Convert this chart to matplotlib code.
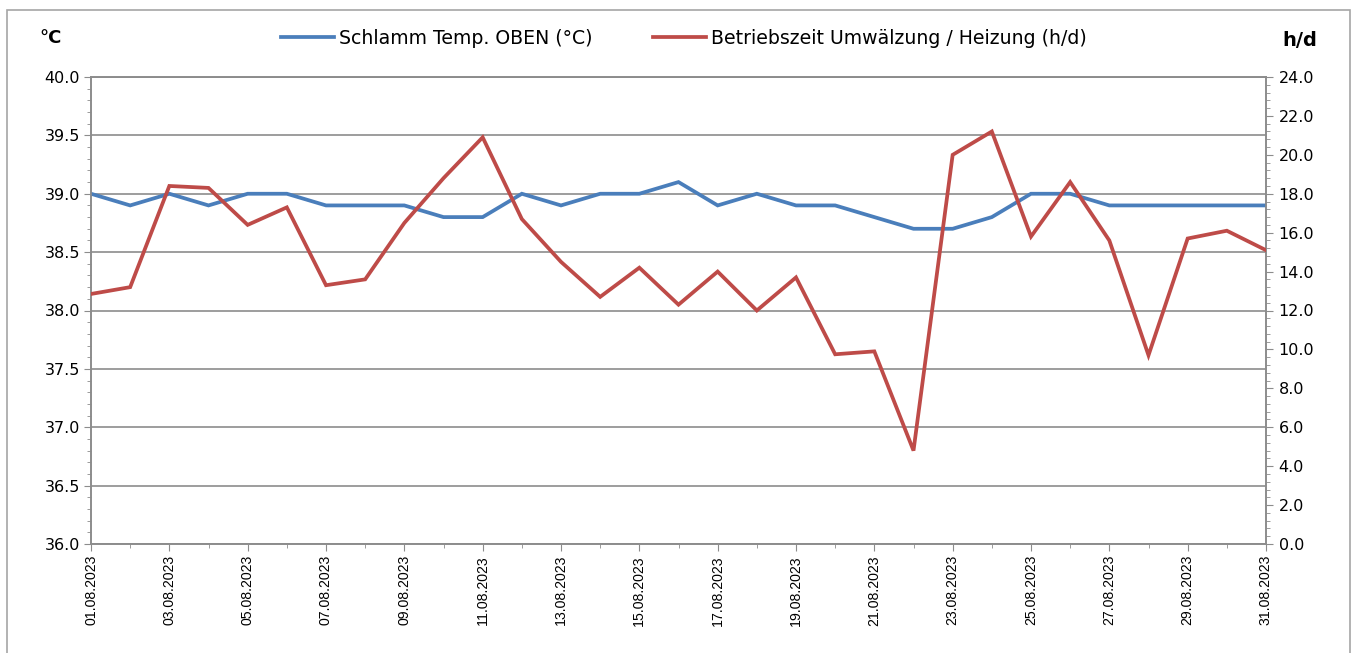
import matplotlib
matplotlib.use("Agg")
import matplotlib.pyplot as plt
from matplotlib.ticker import MultipleLocator, FixedLocator, FormatStrFormatter
from matplotlib.patches import Rectangle
from matplotlib.lines import Line2D

plt.rcParams['font.family'] = ['DejaVu Sans']

dates = [f"{d:02d}.08.2023" for d in range(1, 32)]
temp_oben = [39.0, 38.9, 39.0, 38.9, 39.0, 39.0, 38.9, 38.9, 38.9, 38.8,
             38.8, 39.0, 38.9, 39.0, 39.0, 39.1, 38.9, 39.0, 38.9, 38.9,
             38.8, 38.7, 38.7, 38.8, 39.0, 39.0, 38.9, 38.9, 38.9, 38.9, 38.9]
betriebszeit = [12.85, 13.2, 18.4, 18.3, 16.4, 17.3, 13.3, 13.6, 16.5, 18.8,
                20.9, 16.7, 14.5, 12.7, 14.2, 12.3, 14.0, 12.0, 13.7, 9.75,
                9.9, 4.8, 20.0, 21.2, 15.8, 18.6, 15.6, 9.7, 15.7, 16.1, 15.1]
label_temp = "Schlamm Temp. OBEN (°C)"
label_bz = "Betriebszeit Umwälzung / Heizung (h/d)"

W, H = 1357, 653
fig = plt.figure(figsize=(W / 100, H / 100), dpi=100)
ax = fig.add_axes([91 / W, 1 - 544 / H, (1266 - 91) / W, (544 - 77) / H])
ax2 = ax.twinx()

blue = "#4a7ebb"
red = "#be4b48"
grid_c = "#8c8c8c"
x = list(range(len(dates)))

ax.plot(x, temp_oben, color=blue, lw=2.7, zorder=3, solid_joinstyle='miter')
ax2.plot(x, betriebszeit, color=red, lw=2.7, zorder=3, solid_joinstyle='miter')

ax.set_xlim(0, len(dates) - 1)
ax.set_ylim(36.0, 40.0)
ax2.set_ylim(0, 24)
ax.yaxis.set_major_locator(MultipleLocator(0.5))
ax.yaxis.set_minor_locator(MultipleLocator(0.1))
ax2.yaxis.set_major_locator(MultipleLocator(2))
ax2.yaxis.set_minor_locator(MultipleLocator(0.4))
ax.yaxis.set_major_formatter(FormatStrFormatter('%.1f'))
ax2.yaxis.set_major_formatter(FormatStrFormatter('%.1f'))

ax.xaxis.set_major_locator(FixedLocator(x[::2]))
ax.xaxis.set_minor_locator(FixedLocator(x[1::2]))
ax.set_xticklabels(dates[::2], rotation=90, fontsize=10.2, family='Liberation Sans')

ax.grid(axis='y', which='major', color=grid_c, lw=1.2, zorder=0)
ax.set_axisbelow(True)

for a in (ax, ax2):
    for s in a.spines.values():
        s.set_color(grid_c)
        s.set_linewidth(1.2)
ax.tick_params(axis='both', which='both', color=grid_c, direction='out')
ax.tick_params(axis='y', which='major', length=5, labelsize=11.5, pad=3)
ax.tick_params(axis='y', which='minor', length=3)
ax.tick_params(axis='x', which='major', length=5, pad=3)
ax.tick_params(axis='x', which='minor', length=3)
ax2.tick_params(axis='y', which='both', color=grid_c, direction='out')
ax2.tick_params(axis='y', which='major', length=5, labelsize=11.5, pad=4)
ax2.tick_params(axis='y', which='minor', length=3)

fig.text(39 / W, 1 - 38 / H, "°C", fontsize=13, fontweight='bold', va='center', ha='left')
fig.text(1282 / W, 1 - 40 / H, "h/d", fontsize=14, fontweight='bold', va='center', ha='left')

handles = [Line2D([], [], color=blue, lw=2.7), Line2D([], [], color=red, lw=2.7)]
fig.legend(handles, [label_temp, label_bz], loc='center', bbox_to_anchor=(684 / W, 1 - 38 / H),
           ncol=2, frameon=False, fontsize=13.6, handlelength=2.8, handletextpad=0.27,
           columnspacing=3.2)

fig.patches.append(Rectangle((7 / W, -0.02), (1350 - 7) / W, 1 - 10 / H + 0.02,
                             transform=fig.transFigure, fill=False, edgecolor="#a6a6a6", lw=1.2))

fig.savefig("out.png", dpi=100, facecolor='white')
